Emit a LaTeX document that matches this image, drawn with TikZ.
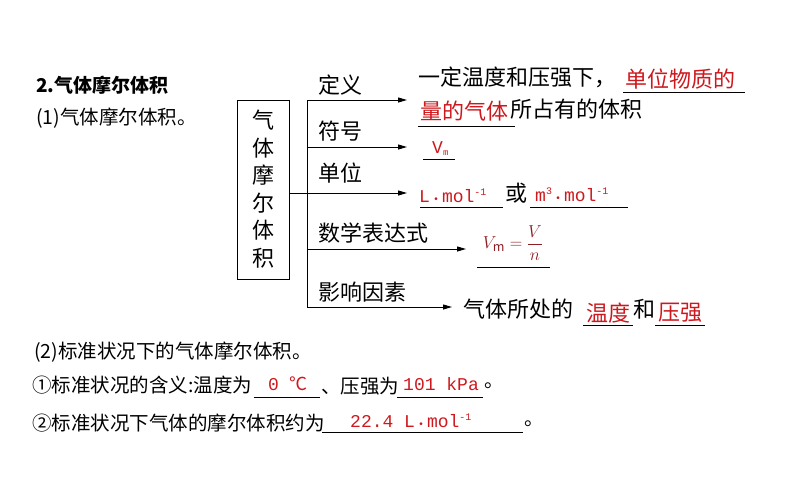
\documentclass[tikz,border=0pt]{standalone}
\usepackage{fontspec}
\setmainfont{Noto Sans CJK SC}
\newfontfamily\mono{Liberation Mono}
\newfontfamily\serifm{Liberation Serif}
\usetikzlibrary{arrows.meta}
\definecolor{rd}{RGB}{205,25,30}
\definecolor{drd}{RGB}{140,30,35}
\newcommand{\dotsep}{\,{\fontsize{10}{10}\selectfont\textbullet}\,}
\begin{document}
\begin{tikzpicture}[x=1pt,y=-1pt,
  big/.style={font=\fontsize{22}{24}\selectfont,inner sep=0pt,anchor=west},
  sm/.style={font=\fontsize{19.5}{21}\selectfont,inner sep=0pt,anchor=west},
  mn/.style={sm,text=rd,font=\mono\fontsize{18}{20}\selectfont},
  arr/.style={-{Triangle[length=9pt,width=5pt]},line width=1pt},
  ul/.style={line width=0.9pt}]
\useasboundingbox (0,0) rectangle (794,495);
\node[draw,line width=1pt,minimum width=52pt,minimum height=179pt,inner sep=0pt] (box) at (263,189.5) {};
\foreach \c [count=\i] in {气,体,摩,尔,体,积}
  \node[big,anchor=center] (v\i) at (263,{93+27.5*\i}) {\c};
\coordinate (t0) at (307,100);
\coordinate (t4) at (307,307);
\coordinate (e1) at (407,100);
\coordinate (e2) at (407,147);
\coordinate (e3) at (407,193);
\coordinate (e4) at (466,249);
\coordinate (e5) at (452,307);
\coordinate (t3) at (307,249);
\coordinate (t2) at (307,147);
\draw[line width=1pt] (t0) -- (t4);
\draw[arr] (t0) -- (e1);
\draw[arr] (t2) -- (e2);
\draw[arr] (box.east |- e3) -- (e3);
\draw[arr] (t3) -- (e4);
\draw[arr] (t4) -- (e5);
\node[big] (l1) at (318,85) {定义};
\node[big] (l2) at (318,131) {符号};
\node[big] (l3) at (318,173) {单位};
\node[big] (l4) at (318,233) {数学表达式};
\node[big] (l5) at (318,292) {影响因素};
% definition
\node[big] (d1) at (418,77) {一定温度和压强下，};
\node[big,text=rd] (d2) at (625,79) {单位物质的};
\draw[ul] (623,92) -- (745,92);
\node[big,text=rd] (d3) at (420,111) {量的气体};
\node[big] (d4) at (510,109) {所占有的体积};
\draw[ul] (418,126) -- (515,126);
% symbol
\node[mn] (s1) at (432,149) {V\raisebox{-2pt}{\fontsize{9}{9}\selectfont m}};
\draw[ul] (423,159) -- (455,159);
% unit
\node[mn] (u1) at (419,196) {L\dotsep mol\raisebox{7pt}{\fontsize{10}{10}\selectfont -1}};
\draw[ul] (420,207) -- (503,207);
\node[big] (u2) at (505,193) {或};
\node[mn] (u3) at (535,195) {m\raisebox{7pt}{\fontsize{10}{10}\selectfont 3}\dotsep mol\raisebox{7pt}{\fontsize{10}{10}\selectfont -1}};
\draw[ul] (530,207) -- (628,207);
% formula
\node[inner sep=0pt,text=drd,font=\serifm\fontsize{18}{20}\selectfont] (f) at (513,243) {$\displaystyle V_{\mathrm{m}}=\frac{V}{n}$};
\draw[ul] (477,267) -- (550,267);
% factors
\node[big] (g1) at (463,309) {气体所处的};
\node[big,text=rd] (g2) at (586,313) {温度};
\draw[ul] (583,325) -- (633,325);
\node[big] (g3) at (633,309) {和};
\node[big,text=rd] (g4) at (658,313) {压强};
\draw[ul] (655,325) -- (705,325);
% left texts
\node[sm,font=\bfseries\fontsize{19}{21}\selectfont] (h1) at (36,85) {2.气体摩尔体积};
\node[sm] (h2) at (36,118) {(1)气体摩尔体积。};
\node[sm] (h3) at (34,352) {(2)标准状况下的气体摩尔体积。};
\node[sm] (h4) at (32,385) {①标准状况的含义:温度为};
\node[mn] (h5) at (268,384) {0 {\rmfamily\fontsize{18}{20}\selectfont ℃}};
\draw[ul] (254,397) -- (320,397);
\node[sm] (h6) at (321,386) {、压强为};
\node[mn] (h7) at (403,384) {101 kPa};
\draw[ul] (397,397) -- (483,397);
\node[sm] (h8) at (484,386) {。};
\node[sm] (h9) at (32,423) {②标准状况下气体的摩尔体积约为};
\node[mn] (h10) at (350,421) {22.4 L\dotsep mol\raisebox{7pt}{\fontsize{10}{10}\selectfont -1}};
\draw[ul] (322,432) -- (523,432);
\node[sm] (h11) at (524,424) {。};
\end{tikzpicture}
\end{document}
